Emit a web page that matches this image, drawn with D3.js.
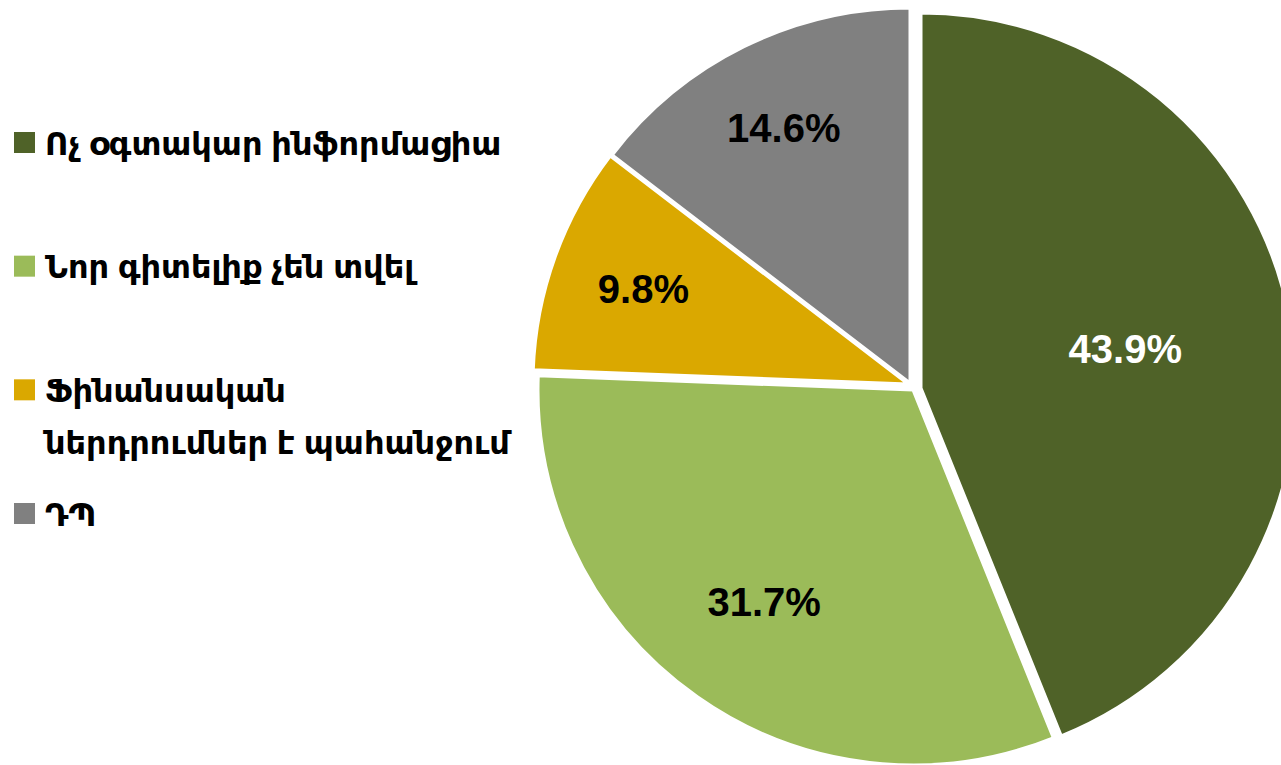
<!DOCTYPE html>
<html>
<head>
<meta charset="utf-8">
<script src="https://cdn.jsdelivr.net/npm/d3@7"></script>
<style>
  html, body { margin: 0; padding: 0; background: #ffffff; }
  svg { display: block; }
</style>
</head>
<body>
<svg id="chart" width="1281" height="765"></svg>
<script>
// ---- data ----
const categories = [
  "Ոչ օգտակար ինֆորմացիա",
  "Նոր գիտելիք չեն տվել",
  "Ֆինանսական ներդրումներ է պահանջում",
  "ԴՊ"
];
const legendLines = [
  ["Ոչ օգտակար ինֆորմացիա"],
  ["Նոր գիտելիք չեն տվել"],
  ["Ֆինանսական", "ներդրումներ է պահանջում"],
  ["ԴՊ"]
];
const values = [43.9, 31.7, 9.8, 14.6];
const valueLabels = ["43.9%", "31.7%", "9.8%", "14.6%"];

// ---- style ----
const colors = ["#4F6228", "#9BBB59", "#DAA800", "#808080"];
const labelColors = ["#ffffff", "#000000", "#000000", "#000000"];
const sliceOffsets = [[9, 2], [1, 4], [-4, -2], [-2, -3]];
const labelRadiusFactor = [0.555, 0.69, 0.75, 0.76];

const svg = d3.select("#chart");
const cx = 912, cy = 386, R = 375;

const pie = d3.pie().sort(null).value(d => d).startAngle(0).endAngle(2 * Math.PI);
const arcs = pie(values);
const arc = d3.arc().innerRadius(0).outerRadius(R);

const g = svg.append("g").attr("transform", `translate(${cx},${cy})`);

const slices = g.selectAll("g.slice").data(arcs).join("g")
  .attr("class", "slice")
  .attr("transform", (d, i) => `translate(${sliceOffsets[i][0]},${sliceOffsets[i][1]})`);

slices.append("path")
  .attr("d", arc)
  .attr("fill", (d, i) => colors[i])
  .attr("stroke", "#ffffff")
  .attr("stroke-width", 3)
  .attr("stroke-linejoin", "round");

slices.append("text")
  .attr("transform", (d, i) => {
    const a = (d.startAngle + d.endAngle) / 2;
    const r = R * labelRadiusFactor[i];
    return `translate(${Math.sin(a) * r},${-Math.cos(a) * r})`;
  })
  .attr("text-anchor", "middle")
  .attr("dy", "0.36em")
  .attr("font-family", "'Liberation Sans', Arial, sans-serif")
  .attr("font-weight", "bold")
  .attr("font-size", 40)
  .attr("fill", (d, i) => labelColors[i])
  .text((d, i) => valueLabels[i]);

// ---- legend ----
const legendY = d3.scalePoint().domain(d3.range(categories.length)).range([143, 514]);
const legend = svg.append("g");
const items = legend.selectAll("g.item").data(categories).join("g")
  .attr("class", "item")
  .attr("transform", (d, i) => `translate(0,${legendY(i)})`);

items.append("rect")
  .attr("x", 14).attr("y", -11)
  .attr("width", 21).attr("height", 21)
  .attr("fill", (d, i) => colors[i]);

items.append("text")
  .attr("x", 45)
  .attr("y", 0)
  .attr("dy", "0.36em")
  .attr("font-family", "'Liberation Sans', 'DejaVu Sans', Arial, sans-serif")
  .attr("font-weight", "bold")
  .attr("font-size", 32)
  .attr("fill", "#000000")
  .each(function(d, i) {
    const t = d3.select(this);
    legendLines[i].forEach((line, j) => {
      t.append("tspan").attr("x", 45).attr("dy", j === 0 ? "0.36em" : "1.62em").text(line);
    });
  });
</script>
</body>
</html>
